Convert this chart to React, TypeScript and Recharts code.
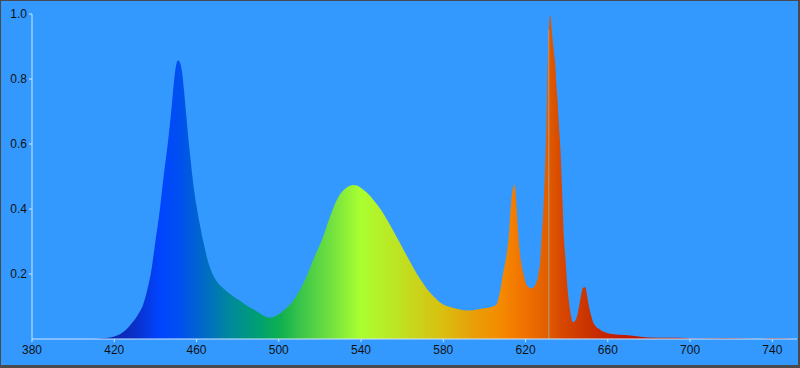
import React from 'react';
import { AreaChart, Area, XAxis, YAxis, ReferenceLine } from 'recharts';

// wavelength (nm) and relative intensity
const wavelengths = [
  380, 400, 410, 414, 418, 420, 422, 424, 426, 428, 430, 432, 434, 436, 438, 440, 442, 444, 446, 448,
  449, 450, 451, 452, 453, 454, 455, 456, 457, 458, 460, 462, 464, 466, 468, 470, 473, 476, 480, 484,
  488, 490, 492, 494, 496, 498, 500, 502, 504, 506, 508, 510, 512, 514, 516, 518, 520, 522, 524, 526,
  528, 530, 532, 534, 536, 538, 540, 542, 544, 546, 548, 550, 552, 554, 556, 558, 560, 562, 564, 566,
  568, 570, 572, 574, 576, 578, 580, 584, 588, 592, 596, 598, 600, 602, 604, 606, 607, 608, 609, 610,
  611, 612, 612.5, 613, 613.5, 614, 614.5, 615, 615.5, 616, 616.5, 617, 618, 619, 620, 621, 622, 623, 624, 625,
  626, 626.5, 627, 627.5, 628, 628.5, 629, 629.5, 630, 630.5, 631, 631.5, 632, 632.5, 633, 633.5, 634, 634.5, 635, 635.5,
  636, 636.5, 637, 637.5, 638, 638.5, 639, 639.5, 640, 640.5, 641, 642, 643, 644, 645, 646, 647, 648, 649, 650,
  651, 652, 653, 654, 656, 658, 660, 664, 668, 672, 676, 680, 690, 698, 700, 716, 734, 740, 752,
];

const intensity = [
  0, 0, 0, 0.002, 0.005, 0.008, 0.012, 0.02, 0.03, 0.045, 0.06, 0.08, 0.105, 0.15, 0.21, 0.3, 0.39, 0.5, 0.6, 0.72,
  0.79, 0.84, 0.858, 0.85, 0.82, 0.76, 0.69, 0.62, 0.56, 0.5, 0.41, 0.34, 0.28, 0.23, 0.198, 0.176, 0.156, 0.14, 0.122, 0.105,
  0.09, 0.082, 0.074, 0.068, 0.066, 0.069, 0.076, 0.086, 0.097, 0.11, 0.127, 0.148, 0.172, 0.2, 0.232, 0.262, 0.29, 0.322, 0.36, 0.395,
  0.425, 0.447, 0.461, 0.47, 0.474, 0.472, 0.465, 0.455, 0.443, 0.428, 0.412, 0.395, 0.374, 0.352, 0.329, 0.306, 0.283, 0.259, 0.236, 0.213,
  0.192, 0.173, 0.155, 0.14, 0.127, 0.115, 0.106, 0.097, 0.091, 0.088, 0.09, 0.093, 0.095, 0.096, 0.1, 0.108, 0.13, 0.16, 0.2, 0.23,
  0.27, 0.33, 0.38, 0.42, 0.45, 0.468, 0.474, 0.46, 0.42, 0.37, 0.32, 0.28, 0.23, 0.2, 0.175, 0.162, 0.157, 0.156, 0.16, 0.17,
  0.19, 0.21, 0.23, 0.28, 0.33, 0.38, 0.45, 0.53, 0.63, 0.76, 0.9, 0.97, 0.997, 0.97, 0.93, 0.9, 0.87, 0.84, 0.78, 0.74,
  0.68, 0.63, 0.58, 0.5, 0.42, 0.33, 0.28, 0.24, 0.19, 0.15, 0.12, 0.075, 0.052, 0.055, 0.07, 0.1, 0.135, 0.158, 0.16, 0.13,
  0.095, 0.07, 0.05, 0.04, 0.03, 0.022, 0.018, 0.014, 0.012, 0.01, 0.007, 0.005, 0.004, 0.003, 0.001, 0.002, 0, 0.002, 0,
];

const xTicks = [380, 420, 460, 500, 540, 580, 620, 660, 700, 740];
const yTicks = [0.2, 0.4, 0.6, 0.8, 1.0];

// colour stops of the fill, by wavelength
const stopNm = [380, 420, 430, 442, 452, 462, 477, 491, 501, 512, 525, 540, 560, 579, 594, 608, 620, 630, 637, 652, 667, 752];
const stopColor = [
  '#0a20a0', '#0a28b0', '#0a30c8', '#0044ff', '#0050f0', '#0066cc', '#008a99', '#00a070', '#10b050', '#40c848', '#70e040',
  '#aaff30', '#c0e020', '#d8c010', '#e8a008', '#f58a00', '#f07000', '#e06000', '#d84800', '#c83000', '#c01a00', '#b01000',
];

const X_MIN = 380;
const X_MAX = 752;

const data = wavelengths.map((nm, i) => ({ nm, value: intensity[i] }));

const tickStyle = { fontSize: 12, fill: '#111', fontFamily: 'Liberation Sans, Arial, sans-serif' };
const axisColor = '#cfe6ff';

export default function App() {
  return (
    <div style={{ position: 'absolute', left: 0, top: 0, width: 800, height: 368, background: '#3399ff' }}>
      <AreaChart width={800} height={368} data={data} margin={{ top: 14, right: 3, left: 0, bottom: 0 }}>
        <defs>
          <linearGradient id="spectrum" x1="0" y1="0" x2="1" y2="0">
            {stopNm.map((nm, i) => (
              <stop key={nm} offset={(nm - X_MIN) / (X_MAX - X_MIN)} stopColor={stopColor[i]} />
            ))}
          </linearGradient>
        </defs>
        <XAxis
          dataKey="nm"
          type="number"
          domain={[X_MIN, X_MAX]}
          ticks={xTicks}
          height={29}
          tickSize={3}
          tickMargin={3}
          stroke={axisColor}
          tick={tickStyle}
          allowDataOverflow
        />
        <YAxis
          type="number"
          domain={[0, 1]}
          ticks={yTicks}
          width={32}
          tickSize={3}
          tickMargin={2}
          stroke={axisColor}
          tick={tickStyle}
          tickFormatter={(v: number) => v.toFixed(1)}
        />
        <Area
          type="monotone"
          dataKey="value"
          stroke="none"
          fill="url(#spectrum)"
          fillOpacity={1}
          isAnimationActive={false}
        />
        <ReferenceLine
          segment={[{ x: 631.3, y: 0 }, { x: 631.3, y: 0.95 }]}
          stroke="#b89a80"
          strokeWidth={1}
        />
      </AreaChart>
      <div
        style={{
          position: 'absolute',
          inset: 0,
          boxSizing: 'border-box',
          borderStyle: 'solid',
          borderColor: '#4a4a4a',
          borderWidth: '1px 2px 3px 1px',
          pointerEvents: 'none',
        }}
      />
    </div>
  );
}
